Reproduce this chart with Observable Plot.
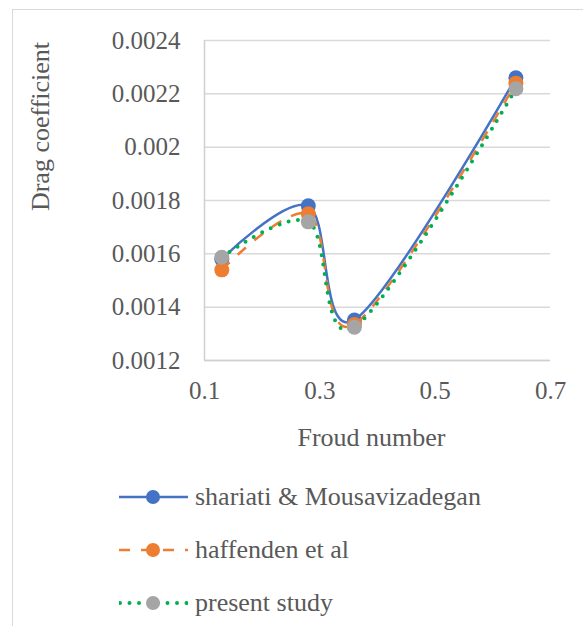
<!DOCTYPE html>
<html><head><meta charset="utf-8">
<script src="https://cdn.jsdelivr.net/npm/d3@7"></script>
<script src="https://cdn.jsdelivr.net/npm/@observablehq/plot@0.6"></script>
<style>
body{margin:0;background:#fff;}
#wrap{position:relative;width:583px;height:626px;overflow:hidden;font-family:"Liberation Serif","Times New Roman",Tinos,"DejaVu Serif",serif;color:#595959;}
#frame{position:absolute;left:12px;top:9px;width:700px;height:700px;border-left:1.5px solid #d9d9d9;border-top:1.5px solid #d9d9d9;}
#chart{position:absolute;left:0;top:0;}
.lg{position:absolute;left:119px;height:36px;display:flex;align-items:center;font-size:26px;white-space:nowrap;}
.lg span{margin-left:7px;line-height:36px;}
</style></head><body>
<div id="wrap"><div id="frame"></div><div id="chart"></div></div>
<script>
// ---- data ----
const froude = [0.13, 0.28, 0.36, 0.64];
const seriesNames = ["shariati & Mousavizadegan", "haffenden et al", "present study"];
const shariati = [0.00158, 0.00178, 0.001352, 0.00226];
const haffenden = [0.00154, 0.00175, 0.001335, 0.00224];
const present = [0.001587, 0.00172, 0.001325, 0.002219];
const xTicks = [0.1, 0.3, 0.5, 0.7];
const xTickLabels = ["0.1", "0.3", "0.5", "0.7"];
const yTicks = [0.0012, 0.0014, 0.0016, 0.0018, 0.002, 0.0022, 0.0024];
const yTickLabels = ["0.0012", "0.0014", "0.0016", "0.0018", "0.002", "0.0022", "0.0024"];
const xTitle = "Froud number";
const yTitle = "Drag coefficient";

// ---- styles ----
const FONT = "'Liberation Serif','Times New Roman',Tinos,'DejaVu Serif',serif";
const lineColors = ["#4472C4", "#ED7D31", "#00B050"];
const markerColors = ["#4472C4", "#ED7D31", "#A5A5A5"];
const dashes = [null, "11,11", "0,9.5"];
const widths = [2.5, 2.5, 4];
const caps = ["butt", "butt", "round"];

const allValues = [shariati, haffenden, present];
const rows = allValues.map((vals, s) => vals.map((v, i) => ({series: seriesNames[s], s, x: froude[i], y: v})));

const marks = [
  Plot.gridY(yTicks, {stroke: "#d9d9d9", strokeOpacity: 1, strokeWidth: 1.5}),
  Plot.ruleX([xTicks[0]], {stroke: "#d0d0d0", strokeWidth: 1.5}),
  Plot.ruleY([yTicks[0]], {stroke: "#d0d0d0", strokeWidth: 1.5}),
  Plot.axisY(yTicks, {label: null, tickSize: 0, tickPadding: 24, tickFormat: d => yTickLabels[yTicks.indexOf(d)], fontSize: 25, fontFamily: FONT}),
  Plot.axisX(xTicks, {label: null, tickSize: 0, tickPadding: 21, tickFormat: d => xTickLabels[xTicks.indexOf(d)], fontSize: 25, fontFamily: FONT}),
  Plot.text([yTitle], {frameAnchor: "top-left", dx: -164, dy: 86, rotate: -90, textAnchor: "middle", lineAnchor: "middle", fontSize: 26, fontFamily: FONT, fill: "#595959"}),
  Plot.text([xTitle], {frameAnchor: "bottom", dx: -6, dy: 77, textAnchor: "middle", lineAnchor: "middle", fontSize: 26, fontFamily: FONT, fill: "#595959"})
];
rows.forEach((data, s) => {
  marks.push(Plot.line(data, {x: "x", y: "y", curve: "cardinal", tension: 0, stroke: lineColors[s], strokeWidth: widths[s], strokeDasharray: dashes[s], strokeLinecap: caps[s]}));
  marks.push(Plot.dot(data, {x: "x", y: "y", r: 7.5, fill: markerColors[s], stroke: "none"}));
});

const chart = Plot.plot({
  width: 583,
  height: 470,
  marginLeft: 204,
  marginRight: 33,
  marginTop: 40,
  marginBottom: 110,
  x: {domain: [0.1, 0.7], axis: null},
  y: {domain: [0.0012, 0.0024], axis: null},
  style: {fontFamily: FONT, color: "#595959", background: "transparent", overflow: "visible"},
  marks
});
document.getElementById("chart").appendChild(chart);

// ---- legend ----
const wrap = document.getElementById("wrap");
const rowY = [497, 550, 603];
seriesNames.forEach((name, s) => {
  const div = document.createElement("div");
  div.className = "lg";
  div.style.top = (rowY[s] - 18) + "px";
  const svg = d3.create("svg").attr("width", 69).attr("height", 36);
  svg.append("line").attr("x1", s === 2 ? 1 : 0).attr("x2", 69).attr("y1", 18).attr("y2", 18)
    .attr("stroke", lineColors[s]).attr("stroke-width", widths[s])
    .attr("stroke-dasharray", dashes[s]).attr("stroke-linecap", caps[s]);
  svg.append("circle").attr("cx", 34).attr("cy", 18).attr("r", 7).attr("fill", markerColors[s]);
  div.appendChild(svg.node());
  const sp = document.createElement("span");
  sp.textContent = name;
  div.appendChild(sp);
  wrap.appendChild(div);
});
</script>
</body></html>
